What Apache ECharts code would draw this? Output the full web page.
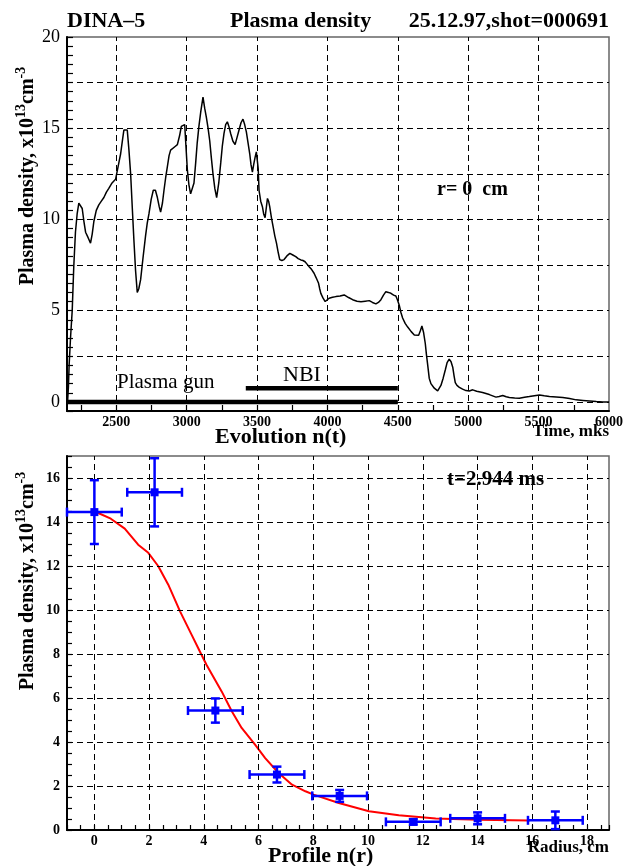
<!DOCTYPE html>
<html><head><meta charset="utf-8">
<script src="https://cdn.jsdelivr.net/npm/echarts@6/dist/echarts.min.js"></script>
<style>html,body{margin:0;padding:0;background:#fff}#c{width:627px;height:866px}</style>
</head><body><div id="c"></div>
<script>
// ---------- Evolution n(t) ----------
const evoTime = [2155,2160,2165,2175,2187,2198,2210,2222,2234,2246,2258,2270,2282,2300,2317,2329,2341,2358,2376,2394,2412,2430,2447,2470,2495,2513,2531,2545,2554,2566,2578,2590,2602,2614,2625,2637,2649,2660,2673,2690,2708,2720,2732,2748,2763,2778,2792,2805,2815,2828,2839,2851,2863,2875,2886,2900,2918,2934,2950,2962,2975,2986,2995,3005,3016,3028,3040,3052,3064,3075,3087,3100,3116,3128,3140,3152,3164,3175,3187,3200,3213,3228,3242,3253,3265,3277,3289,3300,3313,3328,3344,3358,3372,3386,3400,3412,3424,3436,3448,3457,3467,3476,3486,3495,3503,3508,3514,3526,3538,3547,3557,3565,3574,3582,3590,3602,3614,3626,3638,3650,3661,3676,3692,3712,3733,3754,3775,3792,3811,3826,3841,3855,3870,3888,3905,3920,3937,3945,3953,3968,3984,3998,4012,4036,4060,4090,4119,4150,4179,4210,4238,4268,4297,4320,4344,4362,4380,4398,4415,4433,4451,4470,4486,4497,4510,4522,4534,4552,4570,4595,4617,4630,4648,4660,4671,4683,4695,4703,4711,4723,4735,4759,4783,4806,4822,4837,4850,4865,4878,4890,4900,4908,4920,4937,4960,4984,5008,5032,5060,5102,5150,5197,5220,5245,5270,5292,5330,5363,5400,5434,5470,5506,5540,5577,5625,5672,5720,5767,5815,5862,5910,5957,6000];
const evoDensity = [0.1,0.8,2.0,3.5,5.0,7.4,9.3,10.3,10.9,10.9,10.6,9.9,9.3,9.0,8.7,9.2,9.9,10.5,10.8,11.0,11.2,11.5,11.7,12.0,12.2,12.9,13.6,14.4,14.9,15.0,14.9,13.8,12.5,10.6,8.9,7.2,6.0,6.2,6.7,7.9,9.1,9.8,10.3,11.1,11.6,11.6,11.2,10.7,10.4,10.9,11.6,12.3,12.9,13.5,13.8,13.9,14.0,14.1,14.6,15.1,15.2,15.2,14.0,12.7,11.9,11.4,11.3,12.0,13.1,14.2,15.1,15.9,16.7,16.1,15.6,15.0,14.3,13.4,12.5,11.7,11.2,12.0,13.1,14.0,14.7,15.2,15.35,15.1,14.7,14.3,14.1,14.5,14.9,15.3,15.5,15.2,14.8,14.2,13.6,13.0,12.6,13.0,13.4,13.7,13.8,12.8,11.6,11.0,10.7,10.3,10.1,10.6,11.15,11.0,10.7,10.1,9.6,9.1,8.7,8.2,7.8,7.75,7.8,8.0,8.14,8.05,7.96,7.85,7.78,7.75,7.68,7.55,7.41,7.25,7.05,6.8,6.5,6.2,5.95,5.7,5.5,5.6,5.68,5.73,5.77,5.8,5.86,5.72,5.6,5.52,5.49,5.52,5.55,5.45,5.37,5.45,5.6,5.85,6.04,6.0,5.95,5.85,5.8,5.6,5.3,4.9,4.6,4.3,4.1,3.85,3.67,3.58,3.65,3.9,4.16,3.8,3.2,2.6,2.1,1.3,1.0,0.75,0.6,0.9,1.3,1.75,2.15,2.34,2.2,1.9,1.4,1.05,0.9,0.8,0.7,0.62,0.6,0.66,0.58,0.51,0.4,0.26,0.3,0.35,0.28,0.24,0.21,0.2,0.25,0.29,0.34,0.38,0.33,0.29,0.27,0.24,0.18,0.11,0.08,0.05,0.02,0.0,0.0];
const gunTime = [2150, 4500];
const gunLevel = [0, 0];
const nbiTime = [3420, 4500];
const nbiLevel = [0.75, 0.75];
const evoXLabels = [2500, 3000, 3500, 4000, 4500, 5000, 5500, 6000];
const evoXTicks = [2250, 2500, 2750, 3000, 3250, 3500, 3750, 4000, 4250, 4500, 4750, 5000, 5250, 5500, 5750];
const evoXGrid = [2500, 3000, 3500, 4000, 4500, 5000, 5500];
const evoYLabels = [0, 5, 10, 15, 20];
const evoYGrid = [0, 2.5, 5, 7.5, 10, 12.5, 15, 17.5];

// ---------- Profile n(r) ----------
const profR = [0, 2.2, 4.42, 6.67, 8.96, 11.65, 14.0, 16.84];
const profN = [14.45, 15.35, 5.43, 2.52, 1.55, 0.37, 0.53, 0.44];
const profRErr = [1.0, 1.0, 1.0, 1.0, 1.0, 1.0, 1.0, 1.0];
const profNErr = [1.45, 1.55, 0.55, 0.36, 0.27, 0.12, 0.27, 0.4];
const fitR = [0, 0.14, 0.6, 1.11, 1.6, 1.97, 2.33, 2.7, 3.13, 3.55, 3.8, 4.1, 4.65, 5.02, 5.38, 5.87, 6.24, 6.73, 7.22, 7.71, 8.01, 8.93, 10.03, 11.12, 12.47, 14.05, 15.9];
const fitN = [14.45, 14.41, 14.15, 13.7, 12.97, 12.6, 12.0, 11.15, 9.94, 8.88, 8.25, 7.5, 6.3, 5.4, 4.64, 3.88, 3.27, 2.59, 2.06, 1.76, 1.61, 1.23, 0.85, 0.67, 0.52, 0.47, 0.43];
const profXLabels = [0, 2, 4, 6, 8, 10, 12, 14, 16, 18];
const profXGrid = [0, 2, 4, 6, 8, 10, 12, 14, 16, 18];
const profYLabels = [0, 2, 4, 6, 8, 10, 12, 14, 16];
const profYGrid = [0, 2, 4, 6, 8, 10, 12, 14, 16];

const SERIF = '"Liberation Serif", "Times New Roman", serif';
const gridLineStyle = { color: '#000', type: [6, 4], width: 1 };

function gridMarks(xs, ys) {
  return {
    silent: true, animation: false, symbol: ['none', 'none'],
    label: { show: false }, lineStyle: gridLineStyle,
    emphasis: { disabled: true },
    data: ys.map(v => ({ yAxis: v })).concat(xs.map(v => ({ xAxis: v })))
  };
}
function inList(list) { return v => (list.indexOf(Math.round(v * 1000) / 1000) >= 0 ? String(v) : ''); }

const axisLineStyle = { show: true, onZero: false, lineStyle: { color: '#000', width: 2 } };

const chart = echarts.init(document.getElementById('c'), null, { renderer: 'canvas' });
chart.setOption({
  animation: false,
  backgroundColor: '#fff',
  grid: [
    { left: 67, top: 37, right: 18, height: 374, show: true, borderColor: '#666', borderWidth: 1.5, backgroundColor: 'transparent' },
    { left: 67, top: 456, right: 18, height: 374, show: true, borderColor: '#666', borderWidth: 1.5, backgroundColor: 'transparent' }
  ],
  xAxis: [
    { type: 'value', gridIndex: 0, min: 2150, max: 6000, splitNumber: 8,
      axisLine: axisLineStyle,
      axisTick: { show: true, inside: true, length: 6, customValues: evoXTicks, lineStyle: { color: '#000', width: 1.2 } },
      axisLabel: { customValues: evoXLabels, formatter: inList(evoXLabels), margin: 4, color: '#000', fontFamily: SERIF, fontWeight: 'bold', fontSize: 14 },
      splitLine: { show: false } },
    { type: 'value', gridIndex: 1, min: -1, max: 18.8, interval: 0.5,
      axisLine: axisLineStyle,
      axisTick: { show: true, inside: true, length: 5, lineStyle: { color: '#000', width: 1.2 } },
      axisLabel: { customValues: profXLabels, formatter: inList(profXLabels), margin: 4, color: '#000', fontFamily: SERIF, fontWeight: 'bold', fontSize: 14 },
      splitLine: { show: false } }
  ],
  yAxis: [
    { type: 'value', gridIndex: 0, min: -0.5, max: 20, interval: 0.5,
      axisLine: axisLineStyle,
      axisTick: { show: true, inside: true, length: 6, lineStyle: { color: '#000', width: 1.2 } },
      axisLabel: { customValues: evoYLabels, formatter: inList(evoYLabels), margin: 7, color: '#000', fontFamily: SERIF, fontSize: 18 },
      splitLine: { show: false } },
    { type: 'value', gridIndex: 1, min: 0, max: 17, interval: 0.5,
      axisLine: axisLineStyle,
      axisTick: { show: true, inside: true, length: 5, lineStyle: { color: '#000', width: 1.2 } },
      axisLabel: { customValues: profYLabels, formatter: inList(profYLabels), margin: 7, color: '#000', fontFamily: SERIF, fontWeight: 'bold', fontSize: 14 },
      splitLine: { show: false } }
  ],
  series: [
    { type: 'line', xAxisIndex: 0, yAxisIndex: 0, showSymbol: false, symbol: 'none',
      data: evoTime.map((t, i) => [t, evoDensity[i]]),
      lineStyle: { color: '#000', width: 1.5 }, z: 4,
      markLine: gridMarks(evoXGrid, evoYGrid) },
    { type: 'line', xAxisIndex: 0, yAxisIndex: 0, symbol: 'none',
      data: gunTime.map((t, i) => [t, gunLevel[i]]),
      lineStyle: { color: '#000', width: 4.5 }, z: 5 },
    { type: 'line', xAxisIndex: 0, yAxisIndex: 0, symbol: 'none',
      data: nbiTime.map((t, i) => [t, nbiLevel[i]]),
      lineStyle: { color: '#000', width: 4.5 }, z: 5 },
    { type: 'line', xAxisIndex: 1, yAxisIndex: 1, symbol: 'none',
      data: fitR.map((r, i) => [r, fitN[i]]),
      lineStyle: { color: '#ff0000', width: 2 }, z: 4,
      markLine: gridMarks(profXGrid, profYGrid) },
    { type: 'custom', xAxisIndex: 1, yAxisIndex: 1, z: 6,
      data: profR.map((r, i) => [r, profN[i], profRErr[i], profNErr[i]]),
      renderItem: function (params, api) {
        const x = api.value(0), y = api.value(1), ex = api.value(2), ey = api.value(3);
        const c = api.coord([x, y]);
        const l = api.coord([x - ex, y]), r = api.coord([x + ex, y]);
        const t = api.coord([x, y + ey]), b = api.coord([x, y - ey]);
        const cap = 4.5;
        const st = { stroke: '#0000ff', lineWidth: 2.5 };
        return { type: 'group', children: [
          { type: 'line', shape: { x1: l[0], y1: l[1], x2: r[0], y2: r[1] }, style: st },
          { type: 'line', shape: { x1: t[0], y1: t[1], x2: b[0], y2: b[1] }, style: st },
          { type: 'line', shape: { x1: l[0], y1: l[1] - cap, x2: l[0], y2: l[1] + cap }, style: st },
          { type: 'line', shape: { x1: r[0], y1: r[1] - cap, x2: r[0], y2: r[1] + cap }, style: st },
          { type: 'line', shape: { x1: t[0] - cap, y1: t[1], x2: t[0] + cap, y2: t[1] }, style: st },
          { type: 'line', shape: { x1: b[0] - cap, y1: b[1], x2: b[0] + cap, y2: b[1] }, style: st },
          { type: 'rect', shape: { x: c[0] - 4, y: c[1] - 4, width: 8, height: 8 }, style: { fill: '#0000ff' } }
        ] };
      } }
  ],
  graphic: [
    { type: 'text', x: 67, y: 21, style: { text: 'DINA–5', font: 'bold 22px ' + SERIF, fill: '#000', align: 'left', verticalAlign: 'middle', textAlign: 'left', textVerticalAlign: 'middle' } },
    { type: 'text', x: 230, y: 21, style: { text: 'Plasma density', font: 'bold 22px ' + SERIF, fill: '#000', align: 'left', verticalAlign: 'middle', textAlign: 'left', textVerticalAlign: 'middle' } },
    { type: 'text', x: 609, y: 21, style: { text: '25.12.97,shot=000691', font: 'bold 22px ' + SERIF, fill: '#000', align: 'right', verticalAlign: 'middle', textAlign: 'right', textVerticalAlign: 'middle' } },
    { type: 'text', x: 26, y: 176, rotation: Math.PI / 2,
      style: { text: '{m|Plasma density, x10}{s|13}{m|cm}{s|-3}', align: 'center', verticalAlign: 'middle', textAlign: 'center', textVerticalAlign: 'middle',
        rich: { m: { font: 'bold 20px ' + SERIF, fill: '#000', lineHeight: 24, verticalAlign: 'bottom' }, s: { font: 'bold 14px ' + SERIF, fill: '#000', lineHeight: 24, verticalAlign: 'top' } } } },
    { type: 'text', x: 26, y: 581, rotation: Math.PI / 2,
      style: { text: '{m|Plasma density, x10}{s|13}{m|cm}{s|-3}', align: 'center', verticalAlign: 'middle', textAlign: 'center', textVerticalAlign: 'middle',
        rich: { m: { font: 'bold 20px ' + SERIF, fill: '#000', lineHeight: 24, verticalAlign: 'bottom' }, s: { font: 'bold 14px ' + SERIF, fill: '#000', lineHeight: 24, verticalAlign: 'top' } } } },
    { type: 'text', x: 437, y: 190, style: { text: 'r= 0  cm', font: 'bold 20px ' + SERIF, fill: '#000', align: 'left', verticalAlign: 'middle', textAlign: 'left', textVerticalAlign: 'middle' } },
    { type: 'text', x: 117, y: 382, style: { text: 'Plasma gun', font: '21px ' + SERIF, fill: '#000', align: 'left', verticalAlign: 'middle', textAlign: 'left', textVerticalAlign: 'middle' } },
    { type: 'text', x: 283, y: 375, style: { text: 'NBI', font: '22px ' + SERIF, fill: '#000', align: 'left', verticalAlign: 'middle', textAlign: 'left', textVerticalAlign: 'middle' } },
    { type: 'text', x: 215, y: 437, style: { text: 'Evolution n(t)', font: 'bold 22px ' + SERIF, fill: '#000', align: 'left', verticalAlign: 'middle', textAlign: 'left', textVerticalAlign: 'middle' } },
    { type: 'text', x: 609, y: 432, style: { text: 'Time, mks', font: 'bold 17px ' + SERIF, fill: '#000', align: 'right', verticalAlign: 'middle', textAlign: 'right', textVerticalAlign: 'middle' } },
    { type: 'text', x: 447, y: 480, style: { text: 't=2.944 ms', font: 'bold 21px ' + SERIF, fill: '#000', align: 'left', verticalAlign: 'middle', textAlign: 'left', textVerticalAlign: 'middle' } },
    { type: 'text', x: 268, y: 856, style: { text: 'Profile n(r)', font: 'bold 22px ' + SERIF, fill: '#000', align: 'left', verticalAlign: 'middle', textAlign: 'left', textVerticalAlign: 'middle' } },
    { type: 'text', x: 609, y: 848, style: { text: 'Radius, cm', font: 'bold 17px ' + SERIF, fill: '#000', align: 'right', verticalAlign: 'middle', textAlign: 'right', textVerticalAlign: 'middle' } }
  ]
});
</script>
</body></html>
